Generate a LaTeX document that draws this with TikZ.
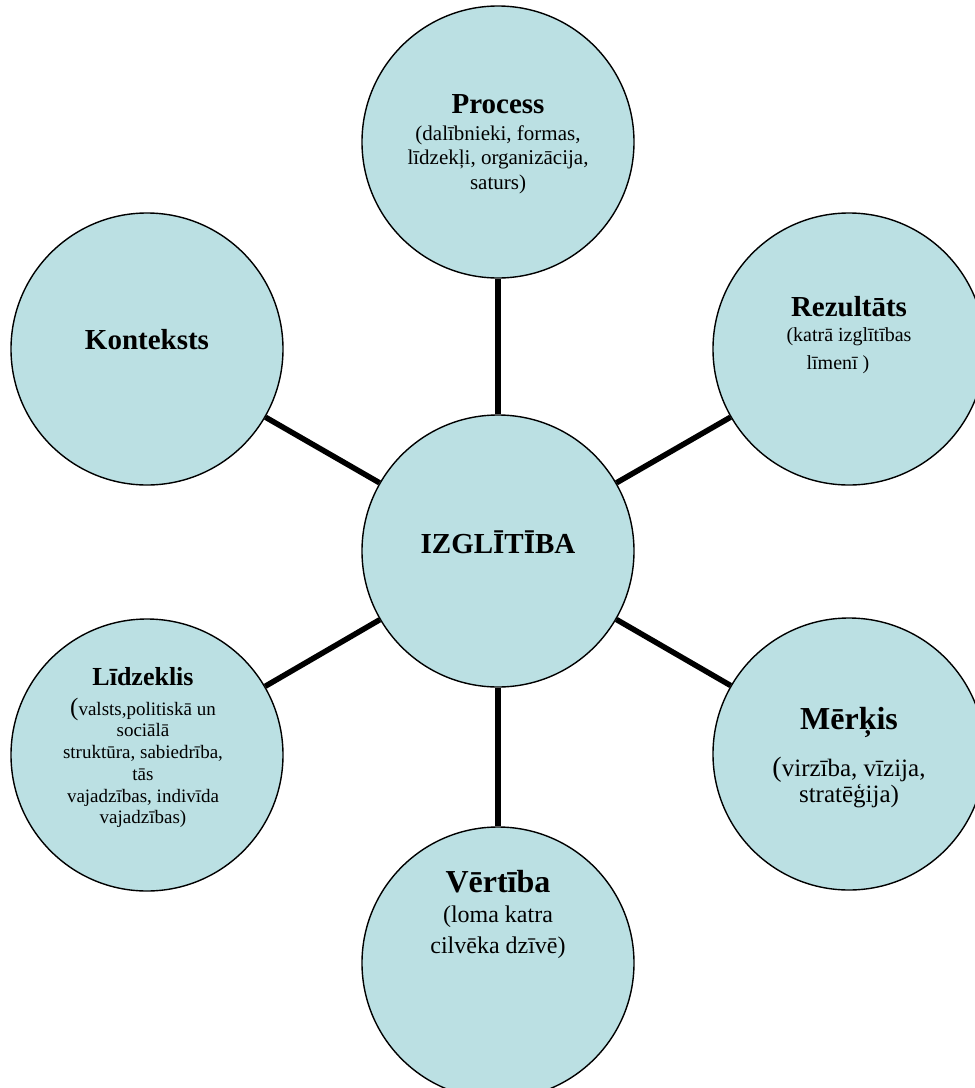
\documentclass[tikz,border=0pt]{standalone}
\usepackage{fontspec}
\setmainfont{Liberation Serif}
\usepackage{tikz}
\usetikzlibrary{positioning}
\definecolor{topicblue}{RGB}{187,224,227}

\begin{document}
\begin{tikzpicture}[x=1pt, y=-1pt, on grid]
\tikzstyle{topic}=[circle, draw=black, line width=1.4pt, fill=topicblue, minimum size=272pt, inner sep=0pt]
\tikzstyle{caption}=[align=center, inner sep=0pt, anchor=north, text=black]
\useasboundingbox (0,0) rectangle (975,1088);
\clip (0,0) rectangle (975,1088);

\node[topic]    (izgl)      at (498,551)                          {};
\node[topic]    (process)   [above=409pt of izgl]                 {};
\node[topic]    (rezult)    [above right=202pt and 351pt of izgl] {};
\node[topic]    (konteksts) [above left=202pt and 351pt of izgl]  {};
\node[topic]    (lidz)      [below left=204pt and 351pt of izgl]  {};
\node[topic]    (merkis)    [below right=203pt and 351pt of izgl] {};
\node[topic]    (vertiba)   [below=412pt of izgl]                 {};
\path[line width=5.5pt]
(izgl) edge (process)
       edge (rezult)
       edge (merkis)
       edge (vertiba)
       edge (lidz)
       edge (konteksts);

% texts in the circles
\node[caption, anchor=base, font=\fontsize{29}{29}\bfseries] (izgl-txt) at ([yshift=-2pt]izgl.center) {IZGLĪTĪBA};
\node[caption, font=\fontsize{21}{24.5}\selectfont] (process-txt) at ([yshift=48pt]process.center)
  {{\fontsize{29}{29}\bfseries Process}\\[2.5pt] (dalībnieki, formas,\\ līdzekļi, organizācija,\\ saturs)};
\node[caption, font=\fontsize{20}{28}\selectfont] (rezult-txt) at ([yshift=53pt]rezult.center)
  {{\fontsize{29}{29}\bfseries Rezultāts}\\[-3pt] (katrā izglītības\\ līmenī )\hspace*{22pt}};
\node[caption, anchor=base, font=\fontsize{29}{29}\bfseries] (konteksts-txt) at (konteksts.center) {Konteksts};
\node[caption, font=\fontsize{19}{21.7}\selectfont] (lidz-txt) at ([xshift=-4pt, yshift=88pt]lidz.center)
  {{\fontsize{26}{26}\bfseries Līdzeklis}\\[8.3pt] {\fontsize{25}{25}\selectfont(}valsts,politiskā un\\ sociālā\\ struktūra, sabiedrība,\\ tās\\ vajadzības, indivīda\\ vajadzības)};
\node[caption, font=\fontsize{25}{26}\selectfont] (merkis-txt) at ([yshift=47pt]merkis.center)
  {{\fontsize{32}{32}\bfseries Mērķis}\\[18pt] {\fontsize{28}{28}\selectfont(}virzība, vīzija,\\ stratēģija)};
\node[caption, font=\fontsize{24}{31}\selectfont] (vertiba-txt) at ([yshift=93pt]vertiba.center)
  {{\fontsize{32}{32}\bfseries Vērtība}\\[-1pt] (loma katra\\ cilvēka dzīvē)};
\end{tikzpicture}
\end{document}
